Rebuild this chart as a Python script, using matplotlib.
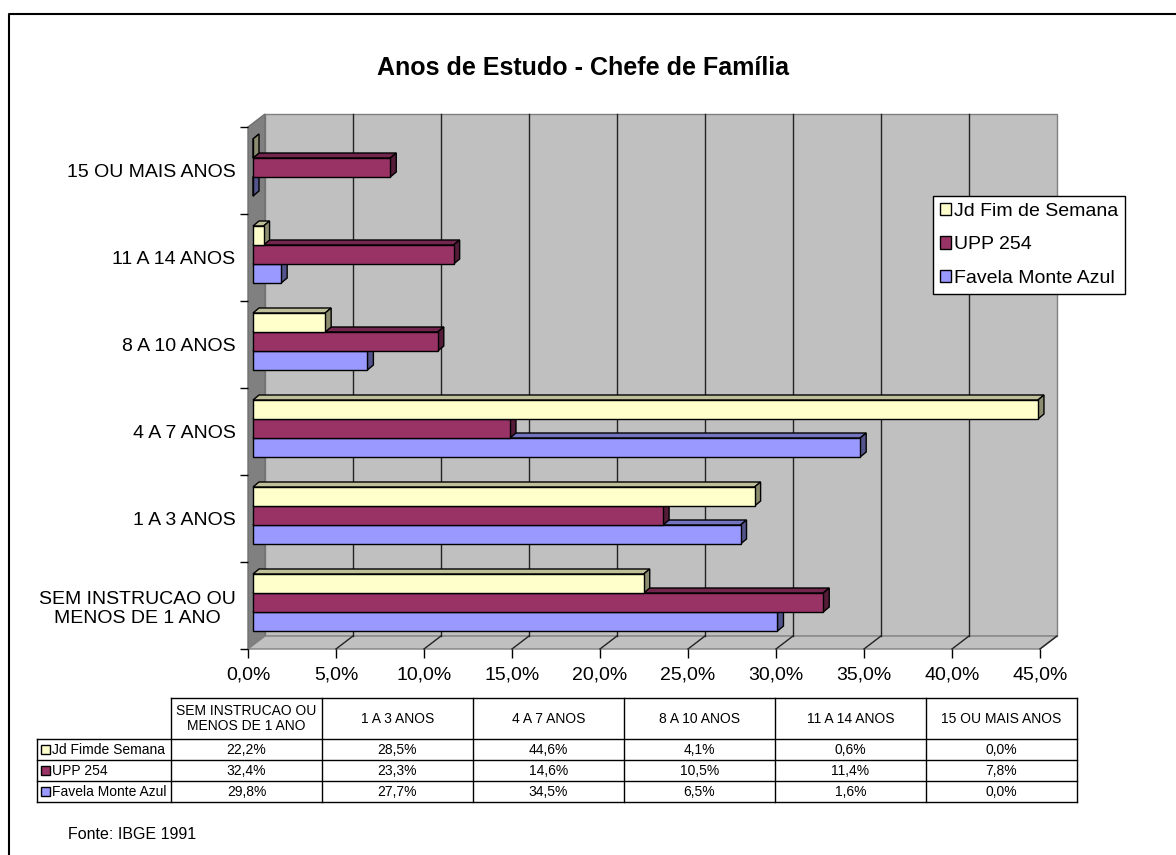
import numpy as np
import matplotlib
matplotlib.use("Agg")
from matplotlib import pyplot as plt
from matplotlib.patches import Polygon, Rectangle, Patch

plt.rcParams['font.family'] = ['Liberation Sans', 'DejaVu Sans']

# data
categories = ["SEM INSTRUCAO OU\nMENOS DE 1 ANO", "1 A 3 ANOS", "4 A 7 ANOS",
              "8 A 10 ANOS", "11 A 14 ANOS", "15 OU MAIS ANOS"]
series_names = ["Jd Fim de Semana", "UPP 254", "Favela Monte Azul"]
table_names = ["Jd Fimde Semana", "UPP 254", "Favela Monte Azul"]
jd_fim = [22.2, 28.5, 44.6, 4.1, 0.6, 0.0]
upp_254 = [32.4, 23.3, 14.6, 10.5, 11.4, 7.8]
favela = [29.8, 27.7, 34.5, 6.5, 1.6, 0.0]
colors = ["#FFFFCC", "#993366", "#9999FF"]
xticks = np.arange(0, 46, 5)

W, H = 1176, 855

def px_rect(l, t, r, b):
    return [l / W, 1 - b / H, (r - l) / W, (b - t) / H]

def shade(c, f):
    rgb = np.array(matplotlib.colors.to_rgb(c))
    return tuple(rgb * f)

fig = plt.figure(figsize=(W / 100, H / 100), dpi=100)

# overlay in pixel coords for border, title, table, source
bg = fig.add_axes([0, 0, 1, 1])
bg.set_xlim(0, W)
bg.set_ylim(H, 0)
bg.axis("off")
bg.plot([9, 9, W], [H, 14, 14], color="black", lw=1.5)
bg.text(583, 68, "Anos de Estudo - Chefe de Família", ha="center", va="center",
        fontsize=18, fontweight="bold")
bg.text(68, 834, "Fonte: IBGE 1991", ha="left", va="center", fontsize=11.5)

# main axes = front plane of the 3d box
ax = fig.add_axes(px_rect(248, 127, 1040, 649))
ax.set_xlim(0, 45)
ax.set_ylim(-0.5, 5.5)
ax.patch.set_visible(False)
for s in ax.spines.values():
    s.set_visible(False)

sx = 45 / (1040 - 248)
sy = 6 / (649 - 127)
wdx, wdy = 17 * sx, 13 * sy      # wall depth
bx, by = 5 * sx, 3 * sy          # bar front shift
ddx, ddy = 6 * sx, 5 * sy        # bar depth
h = 19 * sy

# walls
ax.add_patch(Rectangle((wdx, -0.5 + wdy), 45, 6, fc="#C0C0C0", ec="#808080",
                       lw=1, clip_on=False, zorder=0))
ax.add_patch(Polygon([(0, -0.5), (wdx, -0.5 + wdy), (wdx, 5.5 + wdy), (0, 5.5)],
                     fc="#808080", ec="#707070", lw=1, clip_on=False, zorder=0.5))
ax.add_patch(Polygon([(0, -0.5), (45, -0.5), (45 + wdx, -0.5 + wdy), (wdx, -0.5 + wdy)],
                     fc="#C0C0C0", ec="#808080", lw=1, clip_on=False, zorder=0.5))
for x in xticks[1:-1]:
    ax.plot([x + wdx, x + wdx], [-0.5 + wdy, 5.5 + wdy], color="#222222", lw=1,
            clip_on=False, zorder=0.6)
for x in xticks[1:]:
    ax.plot([x, x + wdx], [-0.5, -0.5 + wdy], color="#222222", lw=1,
            clip_on=False, zorder=0.6)

# bars, drawn bottom series first so upper fronts cover lower tops
ypos = np.arange(len(categories))
all_series = [jd_fim, upp_254, favela]
offsets = [h, 0, -h]
for k in [2, 1, 0]:
    vals = np.array(all_series[k])
    yc = ypos + offsets[k] + by
    z = 2 + (2 - k)
    ax.barh(yc, vals, height=h, left=bx, color=colors[k], edgecolor="black",
            lw=1, zorder=z + 0.5, clip_on=False)
    for y, v in zip(yc, vals):
        yt, yb = y + h / 2, y - h / 2
        ax.add_patch(Polygon([(bx, yt), (bx + ddx, yt + ddy), (bx + v + ddx, yt + ddy), (bx + v, yt)],
                             fc=shade(colors[k], 0.75), ec="black", lw=1, zorder=z, clip_on=False))
        ax.add_patch(Polygon([(bx + v, yb), (bx + v + ddx, yb + ddy), (bx + v + ddx, yt + ddy), (bx + v, yt)],
                             fc=shade(colors[k], 0.55), ec="black", lw=1, zorder=z, clip_on=False))

# ticks
ax.set_xticks(xticks)
ax.set_xticklabels([("%.1f%%" % x).replace(".", ",") for x in xticks])
ax.tick_params(axis="x", direction="out", length=6.5, width=1, pad=6, labelsize=14)
ax.set_yticks(np.arange(-0.5, 6, 1))
ax.set_yticklabels([])
ax.tick_params(axis="y", which="major", direction="out", length=5.8, width=1)
ax.set_yticks(ypos, minor=True)
ax.set_yticklabels(categories, minor=True)
ax.tick_params(axis="y", which="minor", length=0, pad=9, labelsize=14)
for lab in ax.get_yticklabels(minor=True):
    lab.set_multialignment("center")
    lab.set_linespacing(1.2)

# legend
handles = [Patch(facecolor=c, edgecolor="black", lw=1) for c in colors]
leg = ax.legend(handles, series_names, loc="upper left",
                bbox_to_anchor=(933 / W, 1 - 196 / H), bbox_transform=fig.transFigure,
                fontsize=14, frameon=True, fancybox=False, edgecolor="black",
                framealpha=1, handlelength=0.6, handleheight=0.6, handletextpad=0.15,
                borderpad=0.35, labelspacing=0.85, borderaxespad=0)
leg.get_frame().set_linewidth(1)
leg.set_zorder(10)

# data table
x0, x1 = 37, 171
cw = 151
t_top, t_head, rh = 698, 739, 21
ncol = len(categories)
x_end = x1 + cw * ncol
t_bot = t_head + rh * 3
lk = dict(color="black", lw=1)
bg.plot([x1, x_end], [t_top, t_top], **lk)
for r in range(4):
    yy = t_head + rh * r
    bg.plot([x0, x_end], [yy, yy], **lk)
bg.plot([x0, x0], [t_head, t_bot], **lk)
for c in range(ncol + 1):
    xx = x1 + cw * c
    bg.plot([xx, xx], [t_top, t_bot], **lk)
for c, cat in enumerate(categories):
    bg.text(x1 + cw * (c + 0.5), (t_top + t_head) / 2, cat, ha="center", va="center",
            fontsize=10, multialignment="center", linespacing=1.15)
for r in range(3):
    yy = t_head + rh * (r + 0.5)
    bg.add_patch(Rectangle((41, yy - 4.5), 9, 9, fc=colors[r], ec="black", lw=1))
    bg.text(52, yy, table_names[r], ha="left", va="center", fontsize=10)
    for c in range(ncol):
        bg.text(x1 + cw * (c + 0.5), yy, ("%.1f%%" % all_series[r][c]).replace(".", ","),
                ha="center", va="center", fontsize=10)

fig.savefig("out.png", dpi=100)
